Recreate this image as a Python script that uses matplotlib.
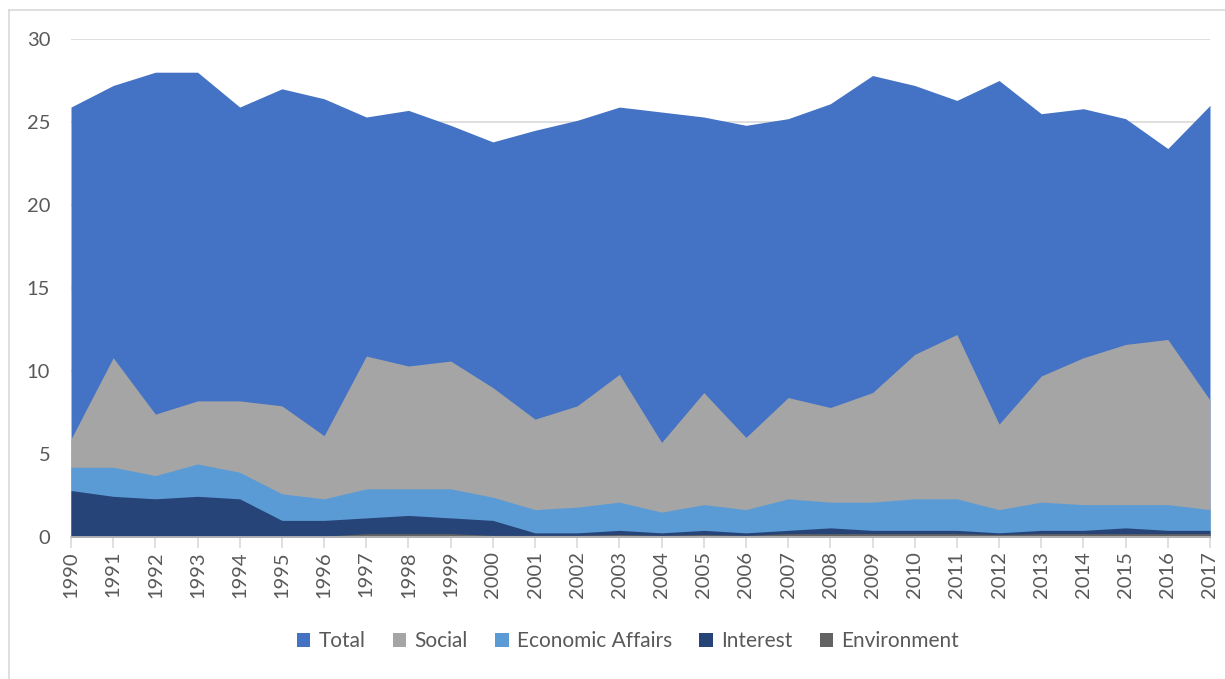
import matplotlib
matplotlib.use("Agg")
import matplotlib.pyplot as plt
from matplotlib.patches import Patch
from matplotlib.lines import Line2D

plt.rcParams['font.family'] = ['Lato', 'DejaVu Sans']

years = list(range(1990, 2018))
total = [25.9, 27.2, 28.0, 28.0, 25.9, 27.0, 26.4, 25.3, 25.7, 24.8,
         23.8, 24.5, 25.1, 25.9, 25.6, 25.3, 24.8, 25.2, 26.1, 27.8,
         27.2, 26.3, 27.5, 25.5, 25.8, 25.2, 23.4, 26.0]
social = [5.9, 10.8, 7.4, 8.2, 8.2, 7.9, 6.1, 10.9, 10.3, 10.6,
          9.0, 7.1, 7.9, 9.8, 5.7, 8.7, 6.0, 8.4, 7.8, 8.7,
          11.0, 12.2, 6.8, 9.7, 10.8, 11.6, 11.9, 8.25]
economic = [4.2, 4.2, 3.7, 4.4, 3.9, 2.6, 2.3, 2.9, 2.9, 2.9,
            2.4, 1.65, 1.8, 2.1, 1.5, 1.95, 1.65, 2.3, 2.1, 2.1,
            2.3, 2.3, 1.65, 2.1, 1.95, 1.95, 1.95, 1.65]
interest = [2.8, 2.45, 2.3, 2.45, 2.3, 1.0, 1.0, 1.15, 1.3, 1.15,
            1.0, 0.25, 0.25, 0.4, 0.25, 0.4, 0.25, 0.4, 0.55, 0.4,
            0.4, 0.4, 0.25, 0.4, 0.4, 0.55, 0.4, 0.4]
environment = [0.05, 0.05, 0.05, 0.05, 0.05, 0.05, 0.05, 0.2, 0.2, 0.2,
               0.1, 0.1, 0.1, 0.15, 0.1, 0.15, 0.1, 0.2, 0.2, 0.2,
               0.2, 0.2, 0.15, 0.2, 0.2, 0.2, 0.2, 0.2]

series = [("Total", total, "#4472C4"),
          ("Social", social, "#A5A5A5"),
          ("Economic Affairs", economic, "#5B9BD5"),
          ("Interest", interest, "#264478"),
          ("Environment", environment, "#636363")]

W, H = 1225, 679
fig = plt.figure(figsize=(W / 100, H / 100), dpi=100)
ax = fig.add_axes([71 / W, 1 - 537 / H, (1210 - 71) / W, (537 - 39) / H])

for name, vals, col in series:
    ax.fill_between(years, 0, vals, color=col, linewidth=0, zorder=2)

ax.set_xlim(1990, 2017)
ax.set_ylim(0, 30)
ax.set_yticks([0, 5, 10, 15, 20, 25, 30])
ax.set_xticks(years)
ax.set_xticklabels([str(y) for y in years], rotation=90)
ax.grid(axis='y', color='#D9D9D9', linewidth=1.2, zorder=0)
ax.set_axisbelow(True)
for s in ['top', 'right', 'left']:
    ax.spines[s].set_visible(False)
ax.spines['bottom'].set_color('#BFBFBF')
ax.spines['bottom'].set_linewidth(1.2)
ax.spines['bottom'].set_zorder(5)
ax.tick_params(axis='y', length=0, pad=15, labelsize=14.5, labelcolor='#595959')
ax.tick_params(axis='x', length=8, width=1.2, color='#D9D9D9', direction='out',
               pad=2, labelsize=14.5, labelcolor='#595959')

handles = [Patch(facecolor=c, edgecolor='none', label=n) for n, _, c in series]
fig.legend(handles=handles, loc='center', bbox_to_anchor=(628 / W, 1 - 641 / H),
           ncol=5, frameon=False, fontsize=15, labelcolor='#595959',
           handlelength=0.65, handleheight=0.65, handletextpad=0.4, columnspacing=1.3)

# chart border (left and top edges visible)
fig.add_artist(Line2D([8.5 / W, 8.5 / W], [0, 1 - 10 / H], transform=fig.transFigure,
                      color='#D9D9D9', linewidth=1.2))
fig.add_artist(Line2D([8.5 / W, 1], [1 - 10 / H, 1 - 10 / H], transform=fig.transFigure,
                      color='#D9D9D9', linewidth=1.2))

fig.savefig("out.png", dpi=100, facecolor='white')
